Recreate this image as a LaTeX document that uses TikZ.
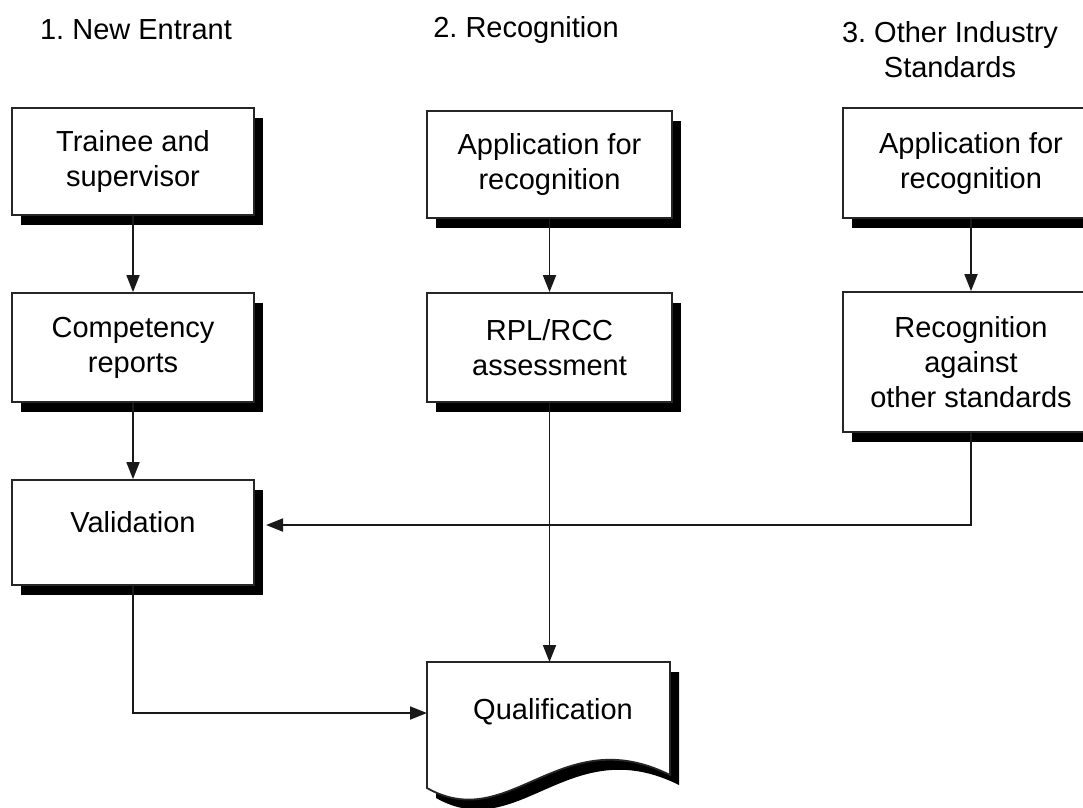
\documentclass[tikz,border=0pt]{standalone}
\usepackage{fontspec}
\setmainfont{Liberation Sans}
\usetikzlibrary{arrows.meta,shadows}
\frenchspacing
\begin{document}
\begin{tikzpicture}[x=1pt,y=-1pt,
  every node/.style={font=\fontsize{29}{35}\selectfont, text=black},
  stepbox/.style={draw=black!85, line width=1.8pt, fill=white, align=center,
    inner sep=0pt,
    drop shadow={shadow xshift=9pt, shadow yshift=-10pt, opacity=1, fill=black}},
  flow/.style={line width=1.8pt, draw=black!90,
    -{Triangle[length=17pt,width=13pt]}},
  heading/.style={align=center}]
\useasboundingbox (0,0) rectangle (1083,807);
\clip (0,0) rectangle (1083,807);

% column headings
\node[heading] (h1) at (136,30) {1. New Entrant};
\node[heading] (h2) at (526,30) {2. Recognition};
\node[heading] (h3) at (950,50) {3. Other Industry\\Standards};

% free ends of the connectors
\coordinate (valin) at (266,525);
\coordinate (qualin) at (427,713);
\coordinate (qualtop) at (549.5,662);

% column 1
\node[stepbox, minimum width=242pt, minimum height=107pt] (train) at (133,161.5)
  {Trainee and\\supervisor};
\node[stepbox, minimum width=242pt, minimum height=109pt] (comp) at (133,347.5)
  {Competency\\reports};
\node[stepbox, minimum width=242pt, minimum height=105pt] (val) at (133,532.5) {};
\node (valtxt) at (133,522) {Validation};

% column 2
\node[stepbox, minimum width=245pt, minimum height=107pt] (app2) at (549.5,164.5)
  {Application for\\recognition};
\node[stepbox, minimum width=245pt, minimum height=109pt] (rpl) at (549.5,347.5)
  {RPL/RCC\\assessment};

% column 3
\node[stepbox, minimum width=256pt, minimum height=110pt] (app3) at (971,163)
  {Application for\\recognition};
\node[stepbox, minimum width=256pt, minimum height=140pt] (rec) at (971,362)
  {Recognition\\against\\other standards};

% qualification document with wavy lower edge
\fill[black] (436,672) -- (679,672) -- (679,785)
  .. controls (569,730) and (519,845) .. (436,798) -- cycle;
\draw[draw=black!85, line width=1.8pt, fill=white] (427,662) -- (670,662) -- (670,775)
  .. controls (560,720) and (510,835) .. (427,788) -- cycle;
\node (qual) at (553,712) {Qualification};

% arrows
\draw[flow] (train.south) -- (comp.north);
\draw[flow] (comp.south) -- (val.north);
\draw[flow] (app2.south) -- (rpl.north);
\draw[flow] (app3.south) -- (rec.north);
\draw[flow] (rpl.south) -- (qualtop);
\draw[flow] (rec.south) |- (valin);
\draw[flow] (val.south) |- (qualin);
\end{tikzpicture}
\end{document}
